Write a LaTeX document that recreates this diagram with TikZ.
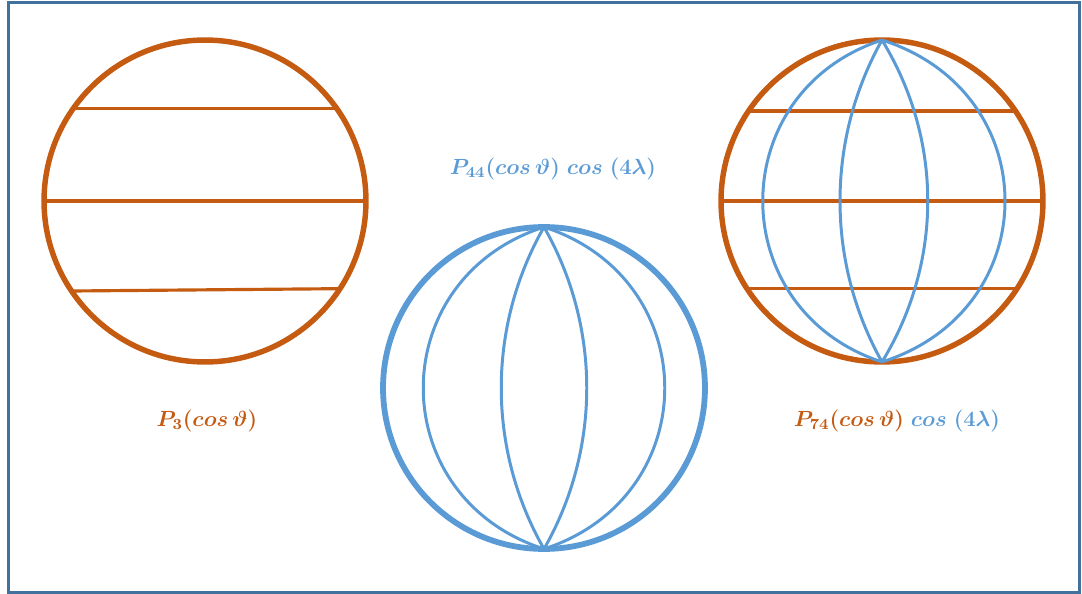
\RequirePackage{fix-cm}
\documentclass[tikz,border=0pt]{standalone}
\usepackage{tikz}
\usetikzlibrary{positioning}
\usepackage{xcolor}
\definecolor{burnt}{HTML}{C55A11}
\definecolor{skyblue}{HTML}{5B9BD5}
\definecolor{steel}{HTML}{41719C}
\usepackage{amsmath, amssymb}

\begin{document}
\begin{tikzpicture}[
    x=0.02cm, y=-0.02cm,
    sphere/.style={circle, minimum size=6.44cm, inner sep=0pt,
      outer sep=0pt, line width=3.1pt},
    parallel/.style={line width=1.8pt, burnt},
    meridian/.style={line width=1.7pt, skyblue},
    frame/.style={line width=1.2pt, steel},
    eqlbl/.style={font=\fontsize{12.5}{16}\selectfont\boldmath},
  ]
  \useasboundingbox (0,0) rectangle (1082,594);
  \draw[frame] (8.5,2.5) rectangle (1079.5,592.5);

  % === left: zonal P_3 ===
  \node[sphere, draw=burnt] (p3s) at (205,201) {};
  \draw[parallel] (p3s.145) -- (p3s.35);
  \draw[parallel] (p3s.west) -- (p3s.east);
  \draw[parallel] (p3s.214) -- (p3s.-33);
  \node[eqlbl, text=burnt] (p3lbl) at (207,421) {$P_3(cos\,\vartheta)$};

  % === middle: sectoral P_44 ===
  \node[sphere, draw=skyblue, line width=3.3pt] (p44s) at (544,388) {};
  \foreach \dx/\dy in {-57/100, 57/100, -161/52, 161/52} {
    \draw[meridian] (p44s.north) .. controls +(\dx,\dy) and +(\dx,-\dy) .. (p44s.south);
  }
  \node[eqlbl, text=skyblue] (p44lbl) at (553,169)
    {$P_{44}(cos\,\vartheta)\;cos\;(4\lambda)$};

  % === right: tesseral P_74 ===
  \node[sphere, draw=burnt] (p74s) at (882,201) {};
  \draw[parallel] (p74s.146) -- (p74s.34);
  \draw[parallel] (p74s.west) -- (p74s.east);
  \draw[parallel] (p74s.213) -- (p74s.-33);
  \foreach \dx/\dy in {-56/100, 61/100, -159/52, 164/52} {
    \draw[meridian] (p74s.north) .. controls +(\dx,\dy) and +(\dx,-\dy) .. (p74s.south);
  }
  \node[eqlbl] (p74lbl) at (897,421)
    {$\textcolor{burnt}{P_{74}(cos\,\vartheta)}\;\textcolor{skyblue}{cos\;(4\lambda)}$};

\end{tikzpicture}
\end{document}
